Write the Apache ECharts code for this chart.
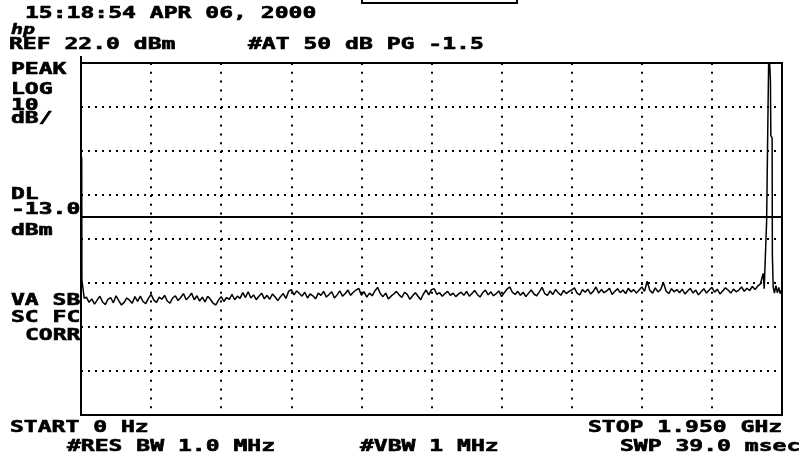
<!DOCTYPE html>
<html>
<head>
<meta charset="utf-8">
<script src="https://cdn.jsdelivr.net/npm/echarts@6/dist/echarts.min.js"></script>
<style>
html,body{margin:0;padding:0;background:#fff;}
#chart{width:805px;height:459px;}
</style>
</head>
<body>
<div id="chart"></div>
<script>
// ---- axis settings (GHz, dBm) ----
const freqStart = 0;
const freqStop = 1.95;
const refLevel = 22;
const bottomLevel = -58;
const displayLine = -13;
const gridLevels = [-48, -38, -28, -18, -8, 2, 12];

// ---- trace: start (LO feedthrough) ----
const startTrace = [[0.002, 0.5], [0.0025, -27.3], [0.0065, -27.5], [0.009, -31.5]];

// ---- trace: noise floor, sweep points from 0.015 GHz, step 0.0075 GHz ----
const noiseStartFreq = 0.015;
const noiseStep = 0.0075;
const noiseLevels = [
  -31.2,-32.4,-31.6,-32.8,-31.9,-31.0,-32.3,-32.9,-31.7,-31.3,-32.5,-30.9,-32.0,-33.0,-32.4,-31.4,-31.9,-32.6,-31.1,-32.2,
  -31.0,-32.2,-32.7,-31.5,-30.6,-31.9,-32.4,-31.2,-31.7,-30.8,-32.1,-32.6,-31.4,-30.9,-32.0,-31.3,-30.4,-31.8,-31.2,-30.3,
  -31.8,-30.9,-32.1,-31.2,-32.3,-31.0,-31.7,-32.6,-33.0,-31.9,-31.1,-32.2,-31.3,-31.7,-30.6,-31.8,-31.0,-31.5,-30.2,-31.3,
  -30.0,-31.4,-30.7,-31.8,-31.0,-30.3,-31.6,-30.8,-31.7,-30.5,-31.2,-32.0,-31.1,-30.4,-31.5,-29.9,-29.5,-30.7,-29.8,-30.4,
  -31.0,-30.1,-31.4,-30.5,-30.9,-31.6,-30.3,-30.8,-29.9,-31.2,-30.6,-30.0,-31.4,-30.7,-29.8,-31.0,-30.4,-29.6,-30.8,-30.1,
  -29.6,-29.2,-30.8,-30.0,-31.2,-30.3,-30.9,-29.8,-29.0,-30.4,-31.1,-30.3,-31.6,-31.0,-30.5,-29.9,-30.7,-31.3,-30.1,-30.6,
  -31.7,-30.9,-30.2,-31.0,-31.8,-30.5,-29.6,-30.7,-29.5,-29.3,-30.6,-30.2,-31.0,-30.4,-29.9,-30.8,-30.3,-31.1,-30.5,-30.1,
  -30.8,-29.9,-31.0,-30.4,-29.7,-30.6,-31.2,-30.2,-29.6,-30.7,-30.0,-30.9,-30.4,-29.8,-31.1,-30.2,-29.4,-28.9,-30.1,-30.6,
  -29.9,-30.8,-30.1,-31.1,-30.3,-29.6,-30.5,-30.9,-30.0,-29.0,-30.4,-30.8,-29.8,-30.6,-29.5,-30.2,-30.8,-29.7,-30.4,-29.9,
  -29.6,-29.1,-30.3,-30.7,-29.5,-30.1,-29.4,-30.5,-29.9,-28.9,-30.3,-29.5,-30.2,-29.8,-29.2,-30.6,-29.9,-29.3,-30.2,-29.6,
  -30.4,-29.2,-30.0,-29.5,-30.3,-29.6,-28.9,-29.9,-27.6,-29.7,-30.3,-29.1,-30.0,-29.5,-27.9,-29.8,-30.4,-29.3,-30.0,-29.5,
  -30.2,-29.4,-30.5,-29.8,-29.2,-30.3,-29.6,-30.7,-30.0,-29.3,-30.3,-29.6,-29.0,-30.1,-29.4,-30.5,-29.8,-29.1,-29.6,-30.3,
  -29.4,-30.0,-29.6,-28.9,-29.9,-29.2,-29.7,-28.8,-29.5,-28.7,-28.2,-25.8
];

// ---- trace: carrier near 1.91 GHz and end of sweep ----
const signalFreqs = [1.9005, 1.9035, 1.906, 1.9072, 1.9095, 1.9112, 1.9135, 1.916, 1.9178, 1.919, 1.9225, 1.9232, 1.9255, 1.929, 1.933, 1.937, 1.941, 1.945, 1.95];
const signalLevels = [-29.3, -29.0, -29.6, -14.0, -14.0, 12.0, 26.0, 26.0, 18.0, 5.5, 5.0, -21.5, -29.0, -30.3, -28.6, -30.2, -29.0, -30.4, -29.3];

// ---- annotation texts ----
const dateText = '15:18:54 APR 06, 2000';
const refText = 'REF 22.0 dBm';
const attText = '#AT 50 dB PG -1.5';
const leftTopTexts = ['PEAK', 'LOG', '10', 'dB/'];
const dlTexts = ['DL', '-13.0', 'dBm'];
const corrTexts = ['VA SB', 'SC FC', 'CORR'];
const startText = 'START 0 Hz';
const stopText = 'STOP 1.950 GHz';
const rbwText = '#RES BW 1.0 MHz';
const vbwText = '#VBW 1 MHz';
const swpText = 'SWP 39.0 msec';

// ---- build the trace ----
const trace = [];
startTrace.forEach(p => trace.push(p));
noiseLevels.forEach((v, i) => trace.push([noiseStartFreq + i * noiseStep, v]));
signalFreqs.forEach((f, i) => trace.push([f, signalLevels[i]]));

const FONT = 'bold 16px "DejaVu Sans Mono"';
const SX = 1.44;
function txt(s, x, y) {
  return {
    type: 'text', x: x, y: y, scaleX: SX, silent: true,
    style: { text: s, font: FONT, fill: '#000', stroke: '#000', lineWidth: 0.6, align: 'left', verticalAlign: 'middle' }
  };
}

const graphics = [
  txt(dateText, 25, 14),
  txt(refText, 9, 45),
  txt(attText, 248, 45),
  txt(leftTopTexts[0], 11, 70),
  txt(leftTopTexts[1], 11, 90),
  txt(leftTopTexts[2], 11, 106),
  txt(leftTopTexts[3], 11, 119),
  txt(dlTexts[0], 11, 195),
  txt(dlTexts[1], 11, 210),
  txt(dlTexts[2], 11, 231),
  txt(corrTexts[0], 11, 301),
  txt(corrTexts[1], 11, 318),
  txt(corrTexts[2], 25, 336),
  txt(startText, 10, 428),
  txt(rbwText, 67, 447),
  txt(vbwText, 360, 447),
  txt(stopText, 588, 428),
  txt(swpText, 620, 447),
  { type: 'text', x: 11, y: 30, silent: true, scaleX: 1.2,
    style: { text: 'hp', font: 'italic bold 14px "DejaVu Sans"', fill: '#000', stroke: '#000', lineWidth: 0.5, align: 'left', verticalAlign: 'middle' } },
  { type: 'rect', silent: true, shape: { x: 362, y: -4, width: 155, height: 7 },
    style: { fill: 'none', stroke: '#000', lineWidth: 2 } },
  { type: 'line', silent: true, shape: { x1: 81, y1: 56, x2: 81, y2: 63 },
    style: { stroke: '#000', lineWidth: 2 } }
];

const chart = echarts.init(document.getElementById('chart'), null, { renderer: 'canvas' });
chart.setOption({
  animation: false,
  backgroundColor: '#fff',
  grid: { left: 81, right: 23, top: 63, height: 352, show: true, borderColor: '#000', borderWidth: 2, backgroundColor: 'transparent' },
  xAxis: {
    type: 'value', min: freqStart, max: freqStop, interval: 0.195,
    axisLabel: { show: false }, axisTick: { show: false }, axisLine: { show: false },
    splitLine: { show: true, lineStyle: { color: '#000', width: 2, type: [2, 6.8] } }
  },
  yAxis: {
    type: 'value', min: bottomLevel, max: refLevel,
    axisLabel: { show: false }, axisTick: { show: false }, axisLine: { show: false },
    splitLine: { show: false }
  },
  series: [
    {
      type: 'line', data: [], silent: true,
      markLine: {
        silent: true, symbol: ['none', 'none'], label: { show: false },
        lineStyle: { color: '#000', width: 2, type: [2, 5] },
        data: gridLevels.map(v => ({ yAxis: v }))
      }
    },
    {
      type: 'line', data: [], silent: true,
      markLine: {
        silent: true, symbol: ['none', 'none'], label: { show: false },
        lineStyle: { color: '#000', width: 2, type: 'solid' },
        data: [{ yAxis: displayLine }]
      }
    },
    {
      type: 'line', data: trace, showSymbol: false, symbol: 'none', clip: true, silent: true,
      lineStyle: { color: '#000', width: 1.5 }
    }
  ],
  graphic: graphics
});
</script>
</body>
</html>
